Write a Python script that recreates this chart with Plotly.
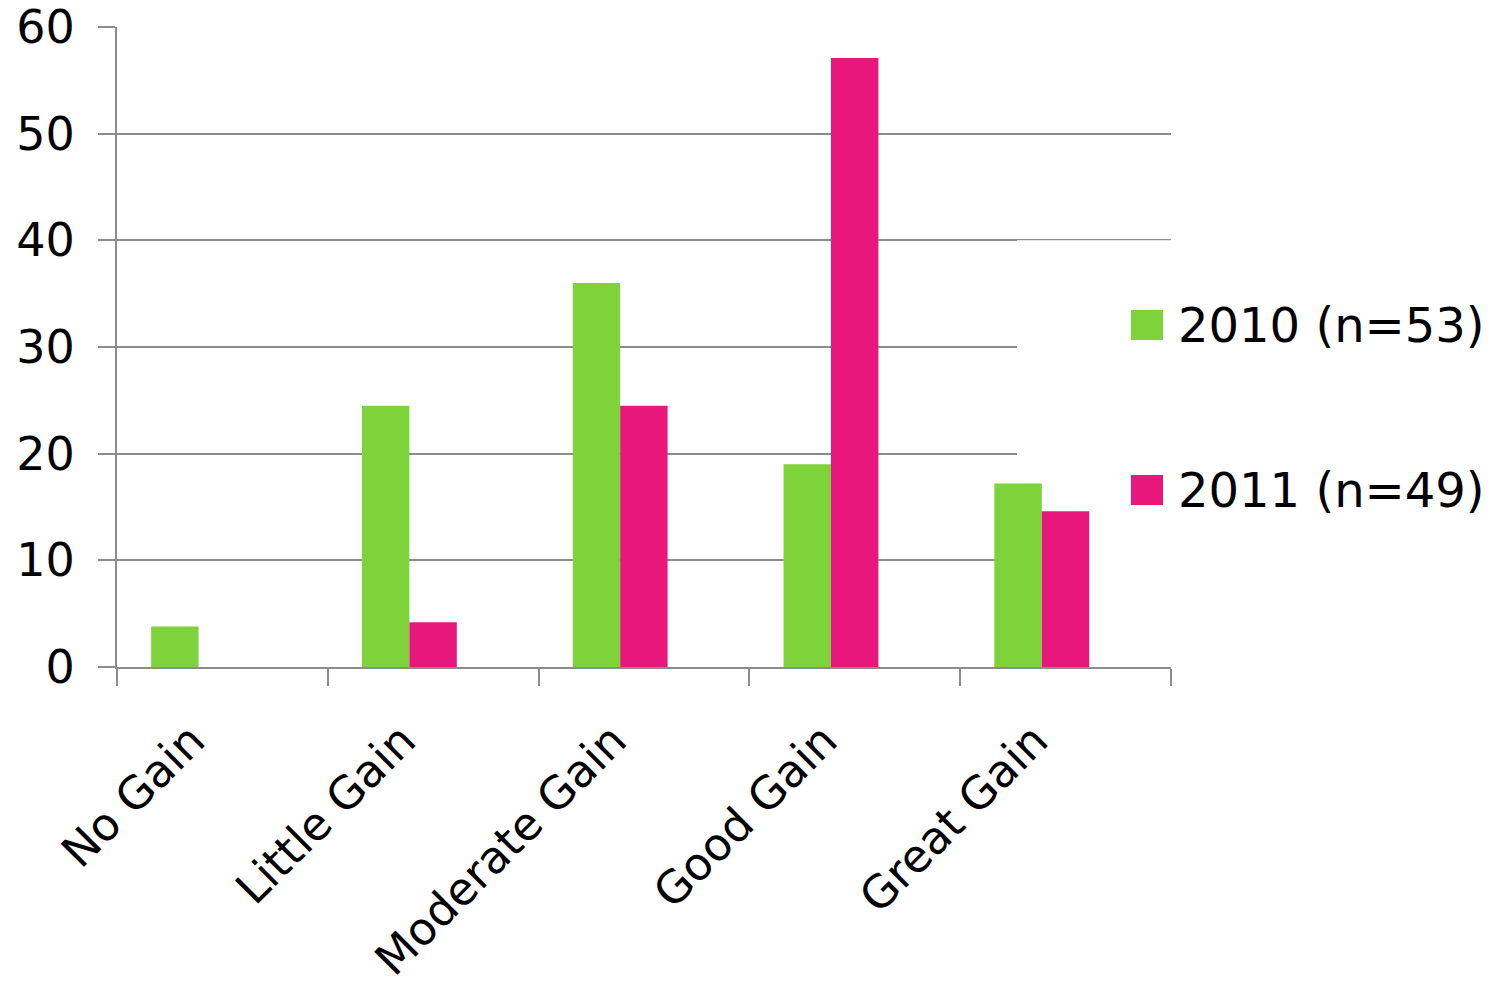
import plotly.graph_objects as go

categories = ["No Gain", "Little Gain", "Moderate Gain", "Good Gain", "Great Gain"]
series_names = ["2010 (n=53)", "2011 (n=49)"]
values_2010 = [3.8, 24.5, 36.0, 19.0, 17.2]
values_2011 = [0.0, 4.2, 24.5, 57.1, 14.6]
y_ticks = [0, 10, 20, 30, 40, 50, 60]

colors = ["#7ed23a", "#e8177c"]
FONT = "DejaVu Sans"
GRID = "#8c8c8c"

fig = go.Figure()
offsets = [-0.338, -0.113]
for name, vals, col, off in zip(series_names, [values_2010, values_2011], colors, offsets):
    fig.add_trace(go.Bar(x=categories, y=vals, name=name, marker=dict(color=col, line=dict(width=0)),
                         width=0.225, offset=off, showlegend=False))

W, H = 1492, 985
L, R, T, B = 117, 321, 27, 318

fig.update_layout(
    width=W, height=H,
    margin=dict(l=L, r=R, t=T, b=B, autoexpand=False),
    paper_bgcolor="white", plot_bgcolor="white",
    barmode="overlay",
    font=dict(family=FONT, size=46, color="black"),
)
fig.update_xaxes(
    type="category", range=[-0.5, 4.5], tickangle=-45,
    tickson="boundaries", ticks="outside", ticklen=17, tickwidth=2, tickcolor=GRID,
    showline=True, linecolor=GRID, linewidth=2, showgrid=False,
    tickfont=dict(family=FONT, size=45, color="black"), automargin=False,
    ticklabelstandoff=27, ticklabelshift=-31,
)
fig.update_yaxes(
    range=[0, 60], tickvals=y_ticks, ticks="outside", ticklen=17, tickwidth=2, tickcolor=GRID,
    showgrid=True, gridcolor=GRID, gridwidth=2, showline=True, linecolor=GRID, linewidth=2,
    zeroline=False, tickfont=dict(family=FONT, size=46, color="black"), automargin=False,
    ticklabelstandoff=14,
)

# white legend background covering gridlines (above grid, below bars)
pw = W - L - R
cat_px = pw / len(categories)
fig.add_shape(type="rect", xref="x", yref="y", x0=(1017 - L) / cat_px - 0.5, x1=4.6, y0=5, y1=40,
              fillcolor="white", line=dict(width=0), layer="between")

# manual legend
legend_y = [325, 490]
for name, col, yc in zip(series_names, colors, legend_y):
    yp = 1 - (yc - T) / (H - T - B)
    y0p = 1 - (yc + 15 - T) / (H - T - B)
    y1p = 1 - (yc - 15 - T) / (H - T - B)
    fig.add_shape(type="rect", xref="paper", yref="paper",
                  x0=(1131 - L) / pw, x1=(1163 - L) / pw, y0=y0p, y1=y1p,
                  fillcolor=col, line=dict(width=0))
    fig.add_annotation(xref="paper", yref="paper", x=(1176 - L) / pw, y=yp, text=name,
                       showarrow=False, xanchor="left", yanchor="middle",
                       font=dict(family=FONT, size=48, color="black"))

fig.write_html("out.html")
